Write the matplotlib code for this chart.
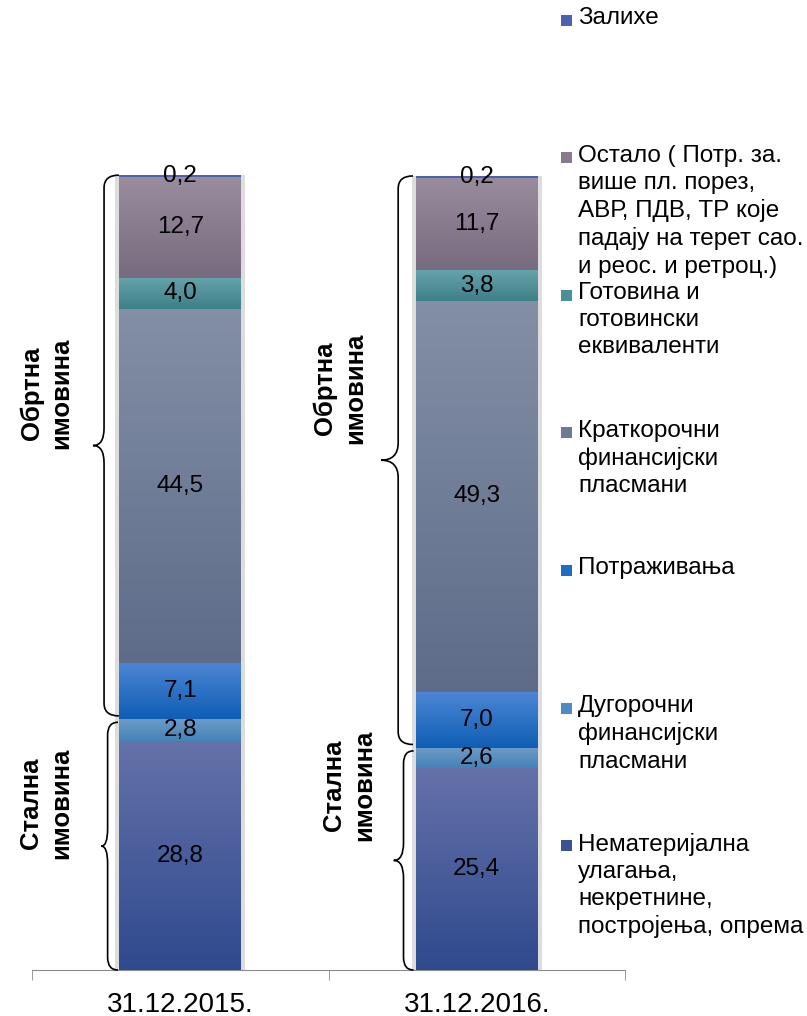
import numpy as np
import matplotlib
matplotlib.use('Agg')
import matplotlib.pyplot as plt
from matplotlib.path import Path
from matplotlib.patches import PathPatch, Rectangle
from matplotlib.colors import LinearSegmentedColormap

plt.rcParams['font.family'] = ['Liberation Sans', 'DejaVu Sans']

# data (bottom to top of each bar)
dates = ['31.12.2015.', '31.12.2016.']
names = ['Нематеријална\nулагања,\nнекретнине,\nпостројења, опрема',
         'Дугорочни\nфинансијски\nпласмани',
         'Потраживања',
         'Краткорочни\nфинансијски\nпласмани',
         'Готовина и\nготовински\nеквиваленти',
         'Остало ( Потр. за.\nвише пл. порез,\nАВР, ПДВ, ТР које\nпадају на терет сао.\nи реос. и ретроц.)',
         'Залихе']
v2015 = [28.8, 2.8, 7.1, 44.5, 4.0, 12.7, 0.2]
v2016 = [25.4, 2.6, 7.0, 49.3, 3.8, 11.7, 0.2]
group_labels = ['Обртна\nимовина', 'Стална\nимовина']

# gradient colours (top, bottom) and flat legend colour
top_c = ['#6571A9', '#6E9BC6', '#4C86D4', '#838FA5', '#66A3AB', '#988C9D', '#4A62B0']
bot_c = ['#2F4A8E', '#4583B8', '#0F5EB5', '#5E6C8A', '#3E8088', '#796B7F', '#4A62B0']
leg_c = ['#3C5296', '#4E8BC0', '#1E6CC4', '#6E7A94', '#4B9098', '#877A8C', '#4A62B0']

fig = plt.figure(figsize=(8.07, 10.16), dpi=100)
ax = fig.add_axes([32/807, 46/1016, 593/807, 802/1016])

vals = np.array([v2015, v2016])
x = np.arange(len(dates))
width = 0.41

# light grey shadow behind bars
ax.bar(x, vals.sum(axis=1), width=0.44, color='#dddddd', zorder=1)

bottom = np.zeros(len(dates))
grad = np.linspace(0, 1, 64).reshape(-1, 1)
for i in range(len(names)):
    bars = ax.bar(x, vals[:, i], width, bottom=bottom, color=leg_c[i], zorder=2)
    cmap = LinearSegmentedColormap.from_list('g%d' % i, [bot_c[i], top_c[i]])
    for p in bars:
        x0, y0 = p.get_x(), p.get_y()
        ax.imshow(grad, extent=[x0, x0 + p.get_width(), y0, y0 + p.get_height()],
                  origin='lower', cmap=cmap, aspect='auto', zorder=3)
    for j in range(len(dates)):
        v = vals[j, i]
        ax.text(x[j], bottom[j] + v / 2, ('%.1f' % v).replace('.', ','),
                ha='center', va='center', fontsize=17.5, zorder=5)
    bottom = bottom + vals[:, i]


def brace(y0, y1, xe, xs, xt, r=1.6, rt=2.2):
    ym = (y0 + y1) / 2
    verts = [(xe, y1), (xs, y1), (xs, y1 - r),
             (xs, ym + rt), (xs, ym), (xt, ym),
             (xs, ym), (xs, ym - rt),
             (xs, y0 + r), (xs, y0), (xe, y0)]
    codes = [Path.MOVETO, Path.CURVE3, Path.CURVE3,
             Path.LINETO, Path.CURVE3, Path.CURVE3,
             Path.CURVE3, Path.CURVE3,
             Path.LINETO, Path.CURVE3, Path.CURVE3]
    ax.add_patch(PathPatch(Path(verts, codes), fill=False, lw=1.2,
                           edgecolor='black', zorder=4, clip_on=False))


# braces: (x end, spine, tip) for the upper and lower group of each bar
brace_x = [[(-0.207, -0.257, -0.294), (-0.21, -0.245, -0.266)],
           [(0.785, 0.735, 0.677), (0.787, 0.753, 0.72)]]
label_pos = [[(-0.452, 72.6), (-0.453, 21.0)],
             [(0.539, 73.3), (0.569, 23.3)]]
for j in range(len(dates)):
    split = vals[j, :2].sum()
    total = vals[j].sum()
    brace(split + 0.4, total, *brace_x[j][0])
    brace(0, split - 0.4, *brace_x[j][1])
    for k in range(2):
        ax.text(label_pos[j][k][0], label_pos[j][k][1], group_labels[k],
                rotation=90, ha='center', va='center', fontsize=18.5,
                fontweight='bold', linespacing=1.3)

ax.set_xlim(-0.5, 1.5)
ax.set_ylim(0, 101)
for s in ['left', 'right', 'top']:
    ax.spines[s].set_visible(False)
ax.spines['bottom'].set_color('#8c8c8c')
ax.set_yticks([])
ax.set_xticks(x)
ax.set_xticklabels(dates, fontsize=20)
ax.tick_params(axis='x', which='major', length=0, pad=16)
ax.set_xticks([-0.5, 0.5, 1.5], minor=True)
ax.tick_params(axis='x', which='minor', length=7, color='#8c8c8c')

# legend, top entry = last series
for k, i in enumerate(range(len(names) - 1, -1, -1)):
    yc = 20 + k * 137.6
    fig.add_artist(Rectangle((561/807, 1 - (yc + 5.5)/1016), 11/807, 11/1016,
                             transform=fig.transFigure, facecolor=leg_c[i],
                             edgecolor='none'))
    fig.text(578/807, 1 - (yc - 13)/1016, names[i], fontsize=17.5, va='top',
             ha='left', linespacing=1.3)

fig.savefig('out.png', dpi=100)
